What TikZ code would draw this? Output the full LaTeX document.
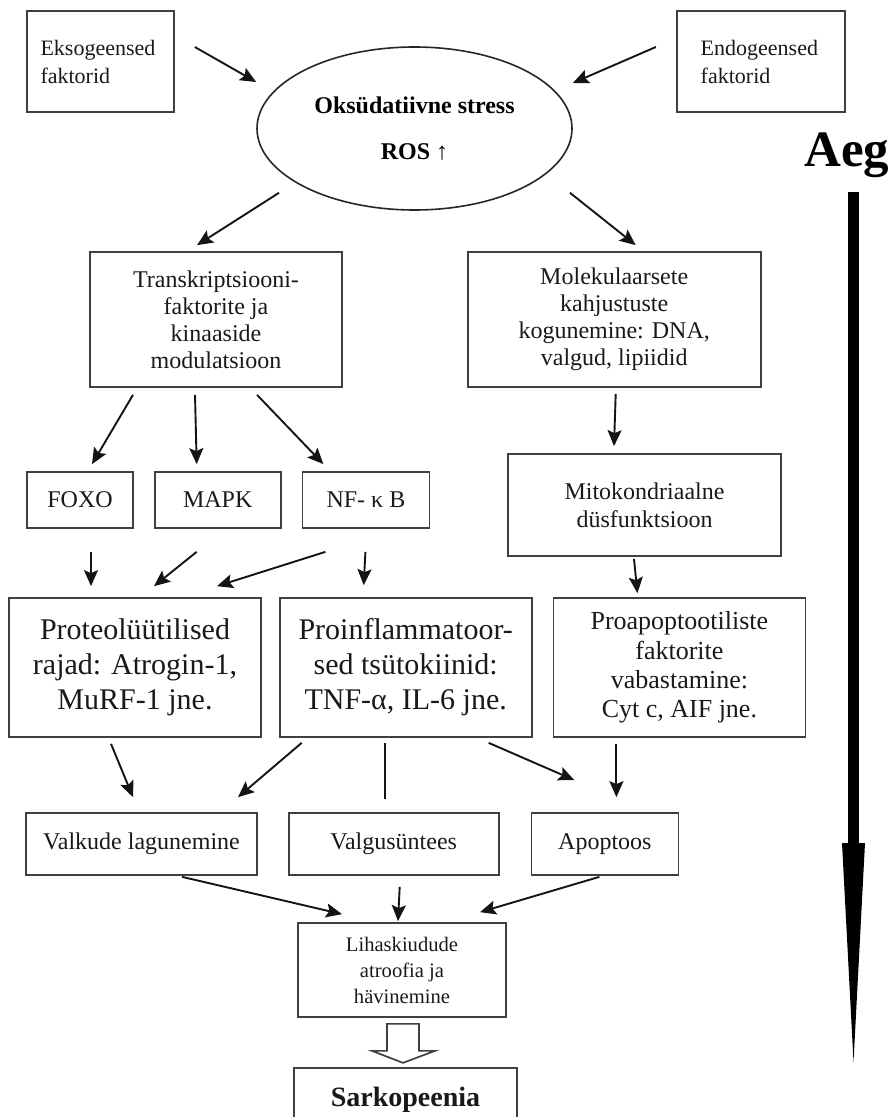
\documentclass[tikz,border=0pt]{standalone}
\usepackage{fontspec}
\setmainfont{Liberation Serif}
\usepackage{tikz}
\usetikzlibrary{
  arrows.meta,
  positioning,
  calc,
  shapes.geometric
}
\definecolor{boxline}{RGB}{64,64,64}
\definecolor{arrowline}{RGB}{20,20,20}
\tikzset{
  flowbox/.style={
    draw=boxline,
    line width=0.85pt,
    align=center,
    inner sep=2pt,
    text=black!90,
    font=\fontsize{12}{13.5}\selectfont
  },
  sidebox/.style={flowbox,align=left,text width=60pt,minimum width=73.5pt,minimum height=50.5pt,font=\fontsize{11}{14}\selectfont},
  bigbox/.style={flowbox,minimum width=126pt,minimum height=69.5pt,font=\fontsize{15}{17.5}\selectfont},
  smallbox/.style={flowbox,minimum height=28pt},
  rowbox/.style={flowbox,minimum height=31pt},
  stressell/.style={
    ellipse,
    draw=black!85,
    line width=0.8pt,
    minimum width=157.5pt,
    minimum height=81.5pt,
    align=center,
    font=\fontsize{12}{23}\selectfont\bfseries
  },
  flowarrow/.style={-{Stealth[length=8pt,width=7pt,inset=1.5pt]},line width=0.95pt,draw=arrowline},
  plainline/.style={line width=0.85pt,draw=arrowline},
  blockarrow/.style={draw=boxline,line width=0.85pt,fill=white,line join=miter},
  timearrow/.style={line width=5.5pt,draw=black,-{Triangle[length=109.5pt,width=11.5pt,line width=0pt]}}
}

\begin{document}
\begin{tikzpicture}[x=0.5pt,y=-0.5pt]
  \useasboundingbox (0,0) rectangle (892,1117);
  \clip (0,0) rectangle (892,1117);
  \node[sidebox] (ekso) at (100.5,61.5) {Eksogeensed\\faktorid};
  \node[sidebox,minimum width=84pt,right=250.5pt of ekso] (endo) {Endogeensed\\faktorid};
  \node[stressell] (ros) at (414.5,128.5) {Oksüdatiivne stress\\ROS \textmd{↑}};
  \node[flowbox,minimum width=126pt,minimum height=67.5pt] (transk) at (216,319.5) {
    Transkriptsiooni-\\faktorite ja\\kinaaside\\modulatsioon
  };
  \node[flowbox,minimum width=146.5pt,minimum height=67.5pt,right=62pt of transk] (molek) {
    Molekulaarsete\\kahjustuste\\kogunemine: DNA,\\valgud, lipiidid
  };
  \node[smallbox,minimum width=53pt] (foxo) at (80,500) {FOXO};
  \node[smallbox,minimum width=63pt,right=10pt of foxo] (mapk) {MAPK};
  \node[smallbox,minimum width=63.5pt,right=10pt of mapk] (nfkb) {NF- κ B};
  \node[flowbox,minimum width=136.5pt,minimum height=51pt,font=\fontsize{12}{14}\selectfont] (mito) at (644.5,505) {
    Mitokondriaalne\\düsfunktsioon
  };
  \node[bigbox] (proteo) at (135,667.5) {Proteolüütilised\\rajad: Atrogin-1,\\MuRF-1 jne.};
  \node[bigbox,right=8.5pt of proteo] (proinfl) {Proinflammatoor-\\sed tsütokiinid:\\TNF-α, IL-6 jne.};
  \node[bigbox,right=10pt of proinfl,font=\fontsize{13}{14.7}\selectfont] (proapop) {
    Proapoptootiliste\\faktorite\\vabastamine:\\Cyt c, AIF jne.
  };
  \node[rowbox,minimum width=115.5pt] (valkude) at (141.5,844) {Valkude lagunemine};
  \node[rowbox,minimum width=105pt,right=15pt of valkude] (valgus) {Valgusüntees};
  \node[rowbox,minimum width=73.5pt,right=15.5pt of valgus] (apopt) {Apoptoos};
  \node[flowbox,minimum width=104pt,minimum height=47pt,font=\fontsize{10.3}{13}\selectfont] (lihas) at (402,970) {
    Lihaskiudude\\atroofia ja\\hävinemine
  };
  \node[flowbox,minimum width=111.5pt,minimum height=32pt,below=24.5pt of lihas,xshift=1.75pt,
    font=\fontsize{14}{16}\selectfont\bfseries] (sarko) {Sarkopeenia};
  \node[font=\fontsize{25.5}{30}\selectfont\bfseries,anchor=base] (aeg) at (847,167) {Aeg};
  \coordinate (timetop) at (853.5,192);
  \coordinate (timetip) at (853.5,1062);

  \draw[flowarrow] ($(ekso.east)+(20,-14.5)$) -- ($(ros.west)+(0,-46.5)$);
  \draw[flowarrow] ($(endo.west)+(-20,-14.5)$) -- ($(ros.east)+(0,-45.5)$);
  \draw[flowarrow] ($(ros.south)+(-135.5,-18)$) -- ($(transk.north)+(-19,-6)$);
  \draw[flowarrow] ($(ros.south)+(155.5,-18)$) -- ($(molek.north)+(21.5,-6)$);
  \draw[flowarrow] ($(transk.south)+(-83,7)$) -- ($(foxo.north)+(12,-7)$);
  \draw[flowarrow] ($(transk.south)+(-21,7)$) -- ($(mapk.north)+(-21,-7)$);
  \draw[flowarrow] ($(transk.south)+(41,7)$) -- ($(nfkb.north)+(-42.5,-7)$);
  \draw[flowarrow] ($(molek.south)+(1.5,6)$) -- ($(mito.north)+(-30.5,-7)$);
  \draw[flowarrow] ($(foxo.south)+(11,23)$) -- ($(proteo.north)+(-44,-11)$);
  \draw[flowarrow] ($(mapk.south)+(-21,23)$) -- ($(proteo.north)+(19,-11)$);
  \draw[flowarrow] ($(nfkb.south)+(-40.5,23)$) -- ($(proteo.north)+(82,-11)$);
  \draw[flowarrow] ($(nfkb.south)+(-0.5,23)$) -- ($(proinfl.north)+(-42,-12)$);
  \draw[flowarrow] ($(mito.south)+(-10.5,2)$) -- ($(proapop.north)+(-42,-4)$);
  \draw[flowarrow] ($(proteo.south)+(-24,6)$) -- ($(valkude.north)+(-8.5,-15)$);
  \draw[flowarrow] ($(proinfl.south)+(-104,5)$) -- ($(valkude.north)+(96.5,-15)$);
  \draw[plainline] ($(proinfl.south)+(-21,5)$) -- ($(valgus.north)+(-9,-13)$);
  \draw[flowarrow] ($(proinfl.south)+(83,5)$) -- ($(apopt.north)+(-30.5,-32)$);
  \draw[flowarrow] ($(proapop.south)+(-63,6)$) -- ($(apopt.north)+(11.5,-15)$);
  \draw[flowarrow] ($(valkude.south)+(40.5,1)$) -- ($(lihas.north)+(-60,-8)$);
  \draw[flowarrow] ($(valgus.south)+(6,11)$) -- ($(lihas.north)+(-4,-1)$);
  \draw[flowarrow] ($(apopt.south)+(-5.5,1)$) -- ($(lihas.north)+(78,-10)$);
  \draw[blockarrow] ($(lihas.south)+(-15,6)$) -- ++(0,27) -- ++(-15,0) -- ++(31,12)
    -- ++(32,-12) -- ++(-16,0) -- ++(0,-27) -- cycle;
  \draw[timearrow] (timetop) -- (timetip);
\end{tikzpicture}
\end{document}
